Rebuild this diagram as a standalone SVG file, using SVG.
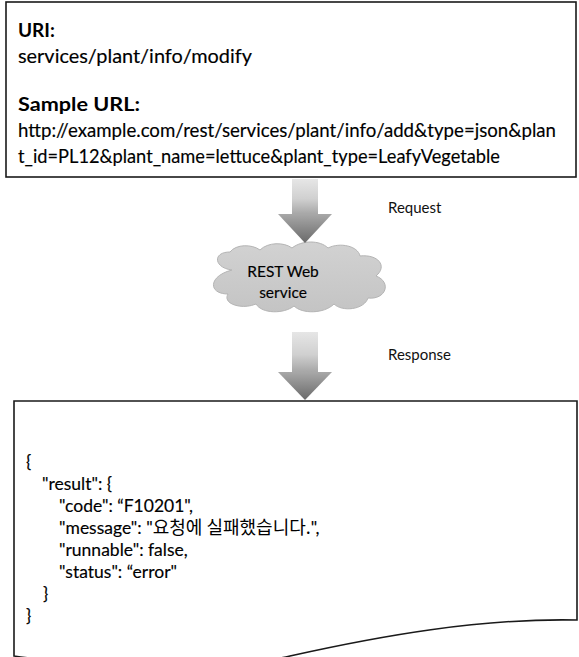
<svg xmlns="http://www.w3.org/2000/svg" width="579" height="657" viewBox="0 0 579 657">
  <defs>
    <linearGradient id="shaftFill" x1="0" y1="0" x2="0" y2="1">
      <stop offset="0" stop-color="#e6e6e6"/>
      <stop offset="0.55" stop-color="#d0d0d0"/>
      <stop offset="1" stop-color="#a4a4a4"/>
    </linearGradient>
    <linearGradient id="headFill" x1="0" y1="0" x2="0" y2="1">
      <stop offset="0" stop-color="#a8a8a8"/>
      <stop offset="1" stop-color="#6a6a6a"/>
    </linearGradient>
    <linearGradient id="cloudFill" x1="0" y1="0" x2="0" y2="1">
      <stop offset="0" stop-color="#d2d2d2"/>
      <stop offset="1" stop-color="#c4c4c4"/>
    </linearGradient>
  </defs>
  <style>
    .box { fill: #ffffff; stroke: #1a1a1a; stroke-width: 1.6; }
    .txt { font-family: Lato, "Liberation Sans", "Noto Sans CJK KR", sans-serif; fill: #000000; stroke: #000000; stroke-width: 0.15; }
    .url { font-size: 19px; }
    .bold { font-weight: bold; stroke-width: 0; }
    .json { font-size: 17.5px; }
    .ko { font-family: "Noto Sans CJK KR", sans-serif; font-size: 18px; stroke-width: 0; }
    .label { font-size: 15px; stroke-width: 0; fill: #111111; }
    .cloudtxt { font-size: 15.5px; }
    .shaft { fill: url(#shaftFill); }
    .head { fill: url(#headFill); }
  </style>

  <!-- request descriptor -->
  <g id="request-box">
    <rect class="box" x="6" y="2" width="570" height="175"/>
    <text class="txt url bold" x="18" y="37">URI:</text>
    <text class="txt url" x="18" y="63" textLength="234" lengthAdjust="spacingAndGlyphs">services/plant/info/modify</text>
    <text class="txt url bold" x="18" y="111" textLength="122" lengthAdjust="spacingAndGlyphs">Sample URL:</text>
    <text class="txt url" x="18" y="137" textLength="538" lengthAdjust="spacingAndGlyphs">http://example.com/rest/services/plant/info/add&amp;type=json&amp;plan</text>
    <text class="txt url" x="18" y="163" textLength="482" lengthAdjust="spacingAndGlyphs">t_id=PL12&amp;plant_name=lettuce&amp;plant_type=LeafyVegetable</text>
  </g>

  <!-- web service -->
  <g id="rest-service">
    <path d="M232,270 C214,268 212,252 230,252 C236,244 252,244 260,250 C268,242 284,242 292,248 C302,240 320,240 328,248 C340,242 358,246 360,256 C378,254 388,266 376,276 C392,282 386,300 368,298 C364,310 342,312 334,304 C324,314 302,314 294,306 C284,314 262,314 256,304 C242,310 222,304 228,294 C208,294 208,276 232,270 Z" fill="url(#cloudFill)" stroke="#b4b4b4" stroke-width="1"/>
    <text class="txt cloudtxt" x="283" y="277" text-anchor="middle">REST Web</text>
    <text class="txt cloudtxt" x="283" y="298" text-anchor="middle">service</text>
  </g>

  <!-- response document -->
  <g id="response-box">
    <path class="box" d="M14,401 H577 V620 C480,618 380,636 290,656 C200,676 100,668 14,656 Z"/>
    <text class="txt json" x="26" y="468">{</text>
    <text class="txt json" x="42" y="490">"result": {</text>
    <text class="txt json" x="59" y="512">"code": “F10201",</text>
    <text class="txt json" x="59" y="534">"message": "<tspan class="ko">요청에 실패했습니다.</tspan>",</text>
    <text class="txt json" x="59" y="556">"runnable": false,</text>
    <text class="txt json" x="59" y="578">"status": “error"</text>
    <text class="txt json" x="43" y="600">}</text>
    <text class="txt json" x="26" y="622">}</text>
  </g>

  <!-- connectors -->
  <g id="connectors">
    <g id="request-arrow">
      <rect class="shaft" x="292" y="179" width="26" height="36"/>
      <polygon class="head" points="278,214 332,214 305,243"/>
      <text class="txt label" x="388" y="213">Request</text>
    </g>
    <g id="response-arrow">
      <rect class="shaft" x="292" y="332" width="26" height="41"/>
      <polygon class="head" points="278,372 332,372 305,400"/>
      <text class="txt label" x="388" y="360">Response</text>
    </g>
  </g>
</svg>
